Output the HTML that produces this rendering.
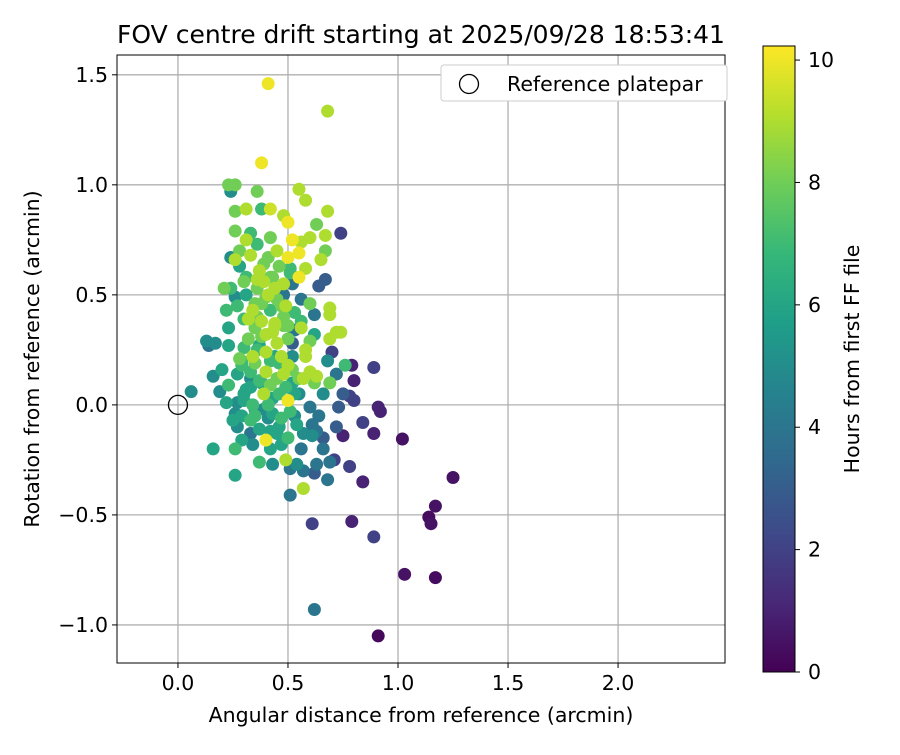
<!DOCTYPE html>
<html><head><meta charset="utf-8"><style>
body{margin:0;background:#fff;}
svg text{font-family:"DejaVu Sans","Liberation Sans",sans-serif;fill:#000;}
</style></head><body>
<svg id="chart" width="900" height="750" viewBox="0 0 900 750" xmlns="http://www.w3.org/2000/svg">
<rect width="900" height="750" fill="#fff"/>
<text x="421" y="43" font-size="25" text-anchor="middle">FOV centre drift starting at 2025/09/28 18:53:41</text>
<g id="grid"></g>
<g id="points"></g>
<rect x="117" y="55" width="608" height="608" fill="none" stroke="#000" stroke-width="1"/>
<g id="axes"></g>
<text x="421" y="722" font-size="20.5" text-anchor="middle">Angular distance from reference (arcmin)</text>
<text transform="translate(39,359) rotate(-90)" font-size="20.5" text-anchor="middle">Rotation from reference (arcmin)</text>
<g>
<rect x="441" y="65" width="286" height="36" rx="3" fill="#fff" stroke="#ccc"/>
<circle cx="469" cy="84" r="9.5" fill="none" stroke="#000" stroke-width="1.3"/>
<text x="507" y="91" font-size="20.5">Reference platepar</text>
</g>
<defs><linearGradient id="vir" x1="0" y1="1" x2="0" y2="0"></linearGradient></defs>
<rect x="763" y="46" width="32" height="626" fill="url(#vir)" stroke="#000" stroke-width="1"/>
<g id="cbticks"></g>
<text transform="translate(859,359) rotate(-90)" font-size="20.5" text-anchor="middle">Hours from first FF file</text>
</svg>
<script>
const xTicks=[0.0,0.5,1.0,1.5,2.0];
const yTicks=[-1.0,-0.5,0.0,0.5,1.0,1.5];
const cTicks=[0,2,4,6,8,10];
const ptX=[0.41,0.68,0.38,0.23,0.26,0.55,0.36,0.24,0.58,0.38,0.31,0.42,0.68,0.26,0.48,0.63,0.50,0.33,0.26,0.42,0.74,0.67,0.60,0.52,0.31,0.36,0.56,0.67,0.24,0.26,0.41,0.50,0.55,0.65,0.28,0.37,0.46,0.58,0.55,0.67,0.21,0.24,0.36,0.44,0.52,0.64,0.26,0.31,0.40,0.48,0.56,0.60,0.22,0.34,0.42,0.62,0.69,0.69,0.30,0.38,0.48,0.56,0.72,0.74,0.23,0.35,0.43,0.53,0.62,0.13,0.14,0.17,0.23,0.30,0.37,0.45,0.52,0.60,0.69,0.70,0.28,0.34,0.42,0.52,0.58,0.68,0.76,0.79,0.89,0.20,0.27,0.33,0.40,0.48,0.60,0.63,0.72,0.16,0.23,0.33,0.42,0.52,0.62,0.69,0.80,0.06,0.19,0.30,0.39,0.46,0.55,0.66,0.75,0.78,0.80,0.22,0.27,0.34,0.50,0.60,0.73,0.91,0.92,0.26,0.35,0.43,0.53,0.64,0.84,0.27,0.37,0.46,0.54,0.61,0.72,0.33,0.50,0.40,0.61,0.66,0.75,0.89,1.02,0.16,0.26,0.42,0.56,0.66,0.71,0.37,0.43,0.49,0.54,0.63,0.69,0.78,0.26,0.51,0.57,0.62,0.68,0.57,0.84,0.51,1.25,1.17,1.14,1.15,0.61,0.79,0.89,1.03,1.17,0.62,0.91,
0.32,0.36,0.40,0.44,0.48,0.33,0.38,0.45,0.50,0.30,0.35,0.41,0.47,0.53,0.29,0.36,0.43,0.49,0.31,0.39,0.45,0.51,0.34,0.42,0.47,0.38,0.44,0.50,0.57,0.29,
0.28,0.33,0.39,0.45,0.51,0.30,0.36,0.42,0.48,0.27,0.35,0.41,0.47,0.53,0.32,0.38,0.44,0.50,0.56,0.29,0.35,0.40,0.46,0.52,0.58,0.31,0.37,0.43,0.49,0.55,0.25,0.33,0.39,0.45,0.51,0.57,0.63,0.29,0.41,0.47];
const ptY=[1.46,1.335,1.10,1.0,1.0,0.98,0.97,0.97,0.93,0.89,0.89,0.89,0.88,0.88,0.86,0.82,0.83,0.78,0.79,0.76,0.78,0.77,0.76,0.75,0.75,0.73,0.74,0.70,0.67,0.66,0.67,0.67,0.69,0.66,0.63,0.61,0.63,0.62,0.58,0.57,0.53,0.53,0.53,0.53,0.55,0.54,0.49,0.50,0.49,0.50,0.48,0.46,0.43,0.43,0.43,0.41,0.44,0.41,0.39,0.38,0.40,0.38,0.33,0.33,0.35,0.35,0.33,0.34,0.32,0.29,0.27,0.28,0.27,0.26,0.27,0.28,0.28,0.29,0.30,0.24,0.21,0.22,0.20,0.22,0.22,0.20,0.18,0.18,0.17,0.16,0.14,0.12,0.15,0.14,0.15,0.13,0.14,0.13,0.09,0.08,0.09,0.10,0.10,0.10,0.11,0.06,0.06,0.05,0.05,0.05,0.05,0.05,0.05,0.04,0.02,0.01,0.01,0.00,0.02,-0.01,-0.01,-0.01,-0.03,-0.04,-0.05,-0.04,-0.05,-0.05,-0.08,-0.10,-0.11,-0.10,-0.09,-0.09,-0.10,-0.13,-0.15,-0.16,-0.14,-0.15,-0.14,-0.13,-0.155,-0.20,-0.20,-0.20,-0.20,-0.20,-0.25,-0.26,-0.27,-0.25,-0.27,-0.27,-0.26,-0.28,-0.32,-0.29,-0.30,-0.31,-0.34,-0.38,-0.35,-0.41,-0.33,-0.46,-0.51,-0.54,-0.54,-0.53,-0.60,-0.77,-0.785,-0.93,-1.05,
0.30,0.25,0.32,0.22,0.36,0.15,0.10,0.12,0.18,0.02,-0.02,0.00,-0.06,0.05,0.20,0.40,0.58,0.45,0.58,0.56,0.48,0.62,-0.18,-0.12,0.22,0.46,0.36,0.36,0.12,-0.05,
0.70,0.68,0.64,0.70,0.60,0.56,0.57,0.58,0.55,0.45,0.46,0.50,0.45,0.42,0.39,0.31,0.37,0.30,0.35,0.18,0.19,0.24,0.19,0.16,0.25,0.07,0.11,0.03,0.08,0.12,-0.07,-0.07,-0.02,-0.13,-0.03,-0.13,-0.12,-0.16,-0.06,-0.18];
const ptH=[10,9,10,8,8,9,8,5,9,7,9,9.5,9,8,9,8,10,7,8,8,2,9,9,10,9,7,9,8,5,9,8,10,10,9,6,9,8,9,10,3,8,7,8,9,4,3,5,6,8,4,4,8,7,9,7,4,9,9,7,9,8,7,9,9,6,8,9,4,6,5,4,5,6,7,6,9,3,8,9,2,8,9,7,5,9,5,7,1,2,6,6,5,9,9,9,9,4,5,7,6,8,6,8,8,1,5,5,6,9,7,5,5,3,2,2,6,5,7,10,4,3,1,1,5,7,6,5,4,2,5,6,6,6,4,3,4,7,10,5,3,1,1,0.5,6,7,6,4,4,2,7,5,9,5,4,4,2,6,4,4,3,4,9,1,4,0.5,0.5,0.3,0.5,2,1,2,0.5,0.3,4,0.2,
8,7,9,6,8,7,6,8,9,6,5,7,7,6,7,8,8,9,7,9,8,7,5,6,9,8,9,8,9,6,
8,9,8,9,7,8,9,8,9,7,8,9,8,7,9,8,9,8,9,7,8,9,7,8,9,6,7,6,7,8,6,7,5,6,7,5,4,6,5,6];
const X0=-0.277,X1=2.486,Y0=-1.173,Y1=1.59,L=117,T=55,W=608,H=608;
const sx=v=>L+(v-X0)/(X1-X0)*W, sy=v=>T+(Y1-v)/(Y1-Y0)*H;
const C0=0,C1=10.23,cy=v=>672-(v-C0)/(C1-C0)*626;
const vs=[[68,1,84],[72,40,120],[62,74,137],[49,104,142],[38,130,142],[31,158,137],[53,183,121],[109,205,89],[180,222,44],[253,231,37]];
function vir(t){t=Math.max(0,Math.min(1,t))*9;const i=Math.min(8,Math.floor(t)),f=t-i;const a=vs[i],b=vs[i+1];return `rgb(${a.map((c,k)=>Math.round(c+(b[k]-c)*f)).join(',')})`;}
const NS='http://www.w3.org/2000/svg';
function mk(tag,at,parent){const e=document.createElementNS(NS,tag);for(const k in at)e.setAttribute(k,at[k]);parent.appendChild(e);return e;}
const grid=document.getElementById('grid'),axes=document.getElementById('axes');
xTicks.forEach(v=>{const x=sx(v);
const g=mk('line',{x1:x,x2:x,y1:T,y2:T+H,stroke:'#b0b0b0','stroke-width':1.3},grid);


const t=mk('line',{x1:x,x2:x,y1:T+H,y2:T+H+5,stroke:'#000'},axes);


const l=mk('text',{x:x,y:T+H+27,'font-size':20.5,'text-anchor':'middle'},axes);l.textContent=v.toFixed(1);

});
yTicks.forEach(v=>{const y=sy(v);
const g=mk('line',{x1:L,x2:L+W,y1:y,y2:y,stroke:'#b0b0b0','stroke-width':1.3},grid);


const t=mk('line',{x1:L-5,x2:L,y1:y,y2:y,stroke:'#000'},axes);


const l=mk('text',{x:L-9,y:y+7,'font-size':20.5,'text-anchor':'end'},axes);l.textContent=(v<0?'\u2212':'')+Math.abs(v).toFixed(1);

});
const pts=document.getElementById('points');
const idx=ptX.map((_,i)=>i).sort((a,b)=>ptH[a]-ptH[b]);
idx.forEach(i=>{const c=mk('circle',{cx:sx(ptX[i]),cy:sy(ptY[i]),r:6.5,fill:vir(ptH[i]/C1)},pts);

});
const ref=mk('circle',{cx:sx(0),cy:sy(0),r:9.5,fill:'none',stroke:'#000','stroke-width':1.3},pts);


const grad=document.getElementById('vir');
vs.forEach((c,i)=>{mk('stop',{offset:(i/9*100)+'%','stop-color':`rgb(${c.join(',')})`},grad);});
const cb=document.getElementById('cbticks');
cTicks.forEach(v=>{const y=cy(v);
const t=mk('line',{x1:795,x2:800,y1:y,y2:y,stroke:'#000'},cb);


const l=mk('text',{x:808,y:y+7,'font-size':20.5},cb);l.textContent=v;

});
</script>
</body></html>
